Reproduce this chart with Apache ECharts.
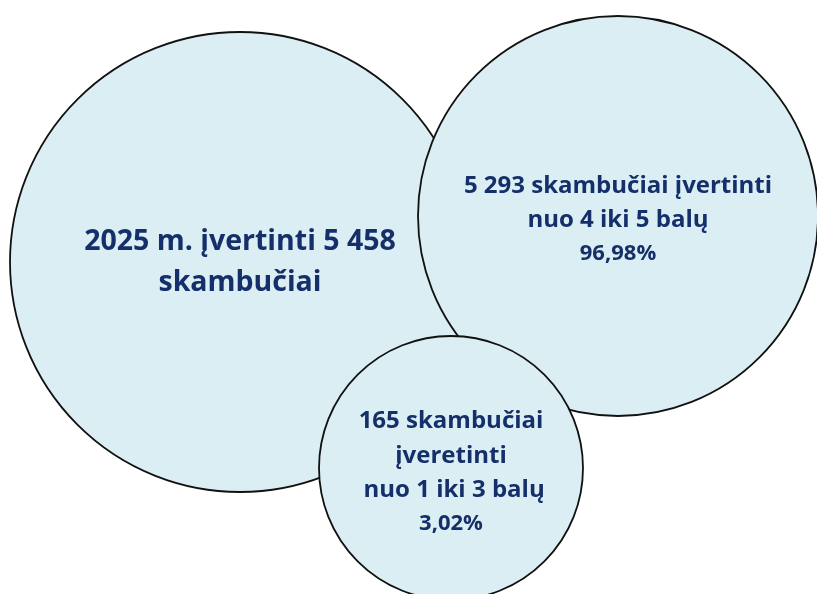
<!DOCTYPE html>
<html>
<head>
<meta charset="utf-8">
<script src="https://cdn.jsdelivr.net/npm/echarts@6/dist/echarts.min.js"></script>
<style>
html,body{margin:0;padding:0;background:#fff;}
#chart{width:817px;height:594px;}
</style>
</head>
<body>
<div id="chart"></div>
<script>
// Data
const totalLines = ['2025 m. įvertinti 5 458', 'skambučiai'];
const highLines = ['5 293 skambučiai įvertinti', 'nuo 4 iki 5 balų'];
const lowLines = ['165 skambučiai', 'įveretinti', ' nuo 1 iki 3 balų'];
const callCounts = [5458, 5293, 165];
const shareLabels = ['', '96,98%', '3,02%'];

// Layout (pixel space of the canvas)
const layout = [
  { x: 240, y: 262, d: 460, style: 'big', dy: 0 },
  { x: 618, y: 216, d: 400, style: 'mid', dy: 3 },
  { x: 451, y: 468, d: 264, style: 'mid', dy: 4 }
];
const textLines = [totalLines, highLines, lowLines];

const chart = echarts.init(document.getElementById('chart'), null, { renderer: 'canvas' });

const data = callCounts.map((v, i) => ({
  value: [layout[i].x, layout[i].y, v],
  symbolSize: layout[i].d,
  label: {
    offset: [0, layout[i].dy],
    formatter: function () {
      const st = layout[i].style === 'big' ? 'b' : 'm';
      let parts = textLines[i].map(t => '{' + st + '|' + t + '}');
      if (shareLabels[i]) parts.push('{p|' + shareLabels[i] + '}');
      return parts.join('\n');
    }
  }
}));

const textColor = '#142F69';
const fam = 'Open Sans';

chart.setOption({
  animation: false,
  backgroundColor: '#ffffff',
  grid: { left: 0, right: 0, top: 0, bottom: 0 },
  xAxis: { type: 'value', min: 0, max: 817, show: false },
  yAxis: { type: 'value', min: 0, max: 594, inverse: true, show: false },
  series: [{
    type: 'scatter',
    clip: false,
    silent: true,
    symbol: 'circle',
    data: data,
    itemStyle: { color: '#DAEEF3', borderColor: '#111111', borderWidth: 1.8, opacity: 1 },
    label: {
      show: true,
      position: 'inside',
      align: 'center',
      verticalAlign: 'middle',
      rich: {
        b: { fontFamily: fam, fontWeight: 'bold', fontSize: 28.5, lineHeight: 41, color: textColor, align: 'center' },
        m: { fontFamily: fam, fontWeight: 'bold', fontSize: 24, lineHeight: 34.5, color: textColor, align: 'center' },
        p: { fontFamily: fam, fontWeight: 'bold', fontSize: 22, lineHeight: 32, color: textColor, align: 'center' }
      }
    },
    emphasis: { disabled: true }
  }]
});
</script>
</body>
</html>
